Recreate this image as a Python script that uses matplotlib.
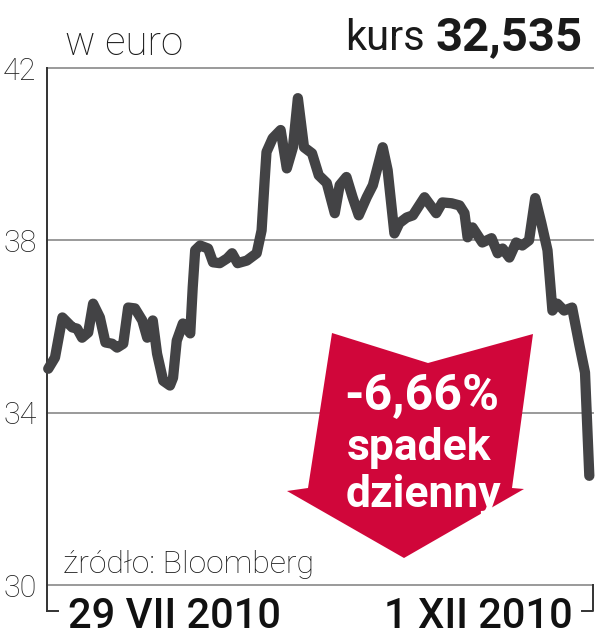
import matplotlib
matplotlib.use("Agg")
import matplotlib.pyplot as plt
from matplotlib import font_manager as fm
from matplotlib.patches import Polygon
from matplotlib.lines import Line2D

# ---------------- data ----------------
sessions = [0, 1.1, 2.3, 3.9, 4.7, 5.5, 6.5, 7.3, 8.4, 9.3, 10.4, 11.2, 12.2, 13.0,
            14.1, 15.3, 16.1, 17.0, 17.7, 18.7, 19.8, 20.3, 20.9, 21.9, 23.1, 23.5,
            23.9, 24.7, 26.0, 26.8, 27.9, 29.1, 29.9, 30.8, 32.3, 33.9, 34.7, 35.2,
            35.5, 36.5, 37.8, 38.8, 39.8, 40.6, 41.6, 42.9, 44.0, 45.3, 46.6, 47.4,
            48.5, 49.5, 50.5, 51.8, 52.8, 54.4, 55.2, 56.3, 57.1, 58.3, 59.3, 61.2,
            63.1, 64.1, 65.6, 66.9, 67.7, 68.2, 69.0, 70.6, 72.1, 73.1, 73.9, 75.0,
            76.1, 77.1, 78.2, 79.2, 80.2, 81.2, 82.0, 82.8, 83.9, 85.2, 86.4, 87.3, 88.0]
prices = [35.02, 35.28, 36.21, 35.98, 35.95, 35.74, 35.86, 36.53, 36.21, 35.63, 35.60,
          35.51, 35.60, 36.44, 36.42, 36.14, 35.74, 36.14, 35.37, 34.74, 34.63, 34.81,
          35.67, 36.07, 35.84, 36.91, 37.77, 37.88, 37.81, 37.49, 37.47, 37.58, 37.70,
          37.47, 37.53, 37.70, 38.23, 39.40, 40.05, 40.37, 40.56, 39.67, 40.16, 41.30,
          40.16, 40.02, 39.51, 39.33, 38.63, 39.28, 39.47, 39.00, 38.58, 39.00, 39.28,
          40.16, 39.63, 38.16, 38.40, 38.53, 38.58, 39.00, 38.63, 38.88, 38.86, 38.81,
          38.63, 38.07, 38.30, 37.95, 38.05, 37.70, 37.81, 37.60, 37.95, 37.88, 38.00,
          38.98, 38.40, 37.77, 36.37, 36.53, 36.37, 36.44, 35.56, 34.93, 32.535]
y_ticks = [30, 34, 38, 42]
y_tick_labels = ["30", "34", "38", "42"]
x_labels = ["29 VII 2010", "1 XII 2010"]
unit_label = "w euro"
last_label = "kurs"
last_value = "32,535"
change_text = "-6,66%"
change_desc = ["spadek", "dzienny"]
source_text = "źródło: Bloomberg"

# ---------------- fonts ----------------
names = {f.name for f in fm.fontManager.ttflist}
def pick(*cands):
    for c in cands:
        if c in names:
            return c
    return "DejaVu Sans"
F = pick("Roboto", "Open Sans", "Lato", "DejaVu Sans")
FB = pick("Roboto", "Open Sans", "DejaVu Sans")

W, H = 597, 640
fig = plt.figure(figsize=(W / 100, H / 100), dpi=100)
L, R, T, B = 47, 593, 68, 585
ax = fig.add_axes([L / W, 1 - B / H, (R - L) / W, (B - T) / H])
ax.set_xlim(-0.2, 88.6)
ax.set_ylim(30, 42)

def fx(px):
    return px / W
def fy(py):
    return 1 - py / H
def axx(px):
    return (px - L) / (R - L)
def axy(py):
    return (B - py) / (B - T)

for s in ax.spines.values():
    s.set_visible(False)
ax.set_xticks([])
ax.set_yticks(y_ticks)
ax.set_yticklabels(y_tick_labels)
ax.tick_params(axis="y", length=0, pad=7.5, labelsize=22, labelcolor="#222222")
for lab in ax.get_yticklabels():
    lab.set_fontfamily(F)
    lab.set_fontweight("light")

for v in y_ticks:
    ax.axhline(v, color="#9a9a9a", lw=1.4, zorder=1, clip_on=False)

# left axis line, extended below into bracket
ax.add_line(Line2D([0, 0], [1, axy(611)], transform=ax.transAxes, color="#333333",
                   lw=1.4, clip_on=False, zorder=3))
ax.add_line(Line2D([0, axx(58)], [axy(611), axy(611)], transform=ax.transAxes,
                   color="#333333", lw=1.4, clip_on=False, zorder=3))
ax.add_line(Line2D([1, 1, axx(582)], [0, axy(611), axy(611)], transform=ax.transAxes,
                   color="#333333", lw=1.4, clip_on=False, zorder=3))

# red arrow
arrow_px = [(332, 333), (428, 363), (533, 334), (512, 488), (524, 489),
            (404, 558), (287, 491), (308, 488)]
arrow = Polygon([(axx(x), axy(y)) for x, y in arrow_px], closed=True,
                transform=ax.transAxes, facecolor="#D0063A", edgecolor="none", zorder=2)
ax.add_patch(arrow)

# price line
ax.plot(sessions, prices, color="#434345", lw=7.4, solid_joinstyle="round",
        solid_capstyle="round", zorder=4, clip_on=False)

# arrow text
ax.text(axx(422), axy(410), change_text, transform=ax.transAxes, ha="center",
        va="baseline", color="white", fontsize=36, fontweight="bold", family=FB, zorder=5)
ax.text(axx(419), axy(460), change_desc[0], transform=ax.transAxes, ha="center",
        va="baseline", color="white", fontsize=32, fontweight="bold", family=FB, zorder=5)
ax.text(axx(423), axy(507), change_desc[1], transform=ax.transAxes, ha="center",
        va="baseline", color="white", fontsize=32, fontweight="bold", family=FB, zorder=5)

# titles
fig.text(fx(65), fy(55), unit_label, ha="left", va="baseline", fontsize=29,
         fontweight="light", family=F, color="#1a1a1a")
fig.text(fx(583), fy(50), last_value, ha="right", va="baseline", fontsize=34,
         fontweight="bold", family=FB, color="#1a1a1a")
fig.text(fx(425), fy(50), last_label, ha="right", va="baseline", fontsize=30,
         fontweight="normal", family=F, color="#1a1a1a")

# source
fig.text(fx(63), fy(573), source_text, ha="left", va="baseline", fontsize=23,
         fontweight="light", family=F, color="#1a1a1a")

# x labels
fig.text(fx(68), fy(628), x_labels[0], ha="left", va="baseline", fontsize=30,
         fontweight="medium", family=F, color="#111111")
fig.text(fx(384), fy(628), x_labels[1], ha="left", va="baseline", fontsize=30,
         fontweight="medium", family=F, color="#111111")

fig.savefig("out.png", dpi=100, facecolor="white")
